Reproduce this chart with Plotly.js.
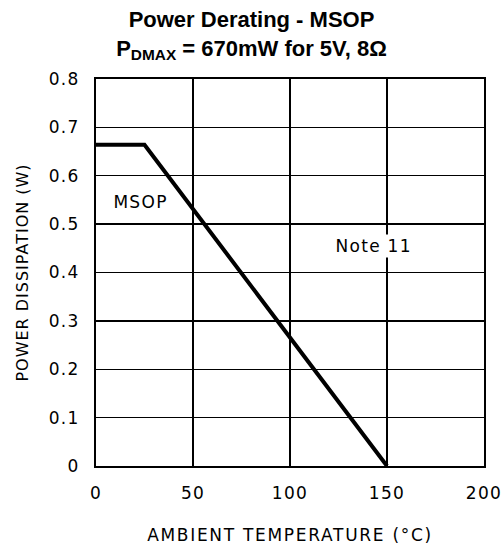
<!DOCTYPE html>
<html>
<head>
<meta charset="utf-8">
<script src="https://cdn.plot.ly/plotly-3.0.1.min.js"></script>
<style>
html,body{margin:0;padding:0;background:#fff;}
#chart .xtitle{letter-spacing:1.7px;}
#chart .ytitle{letter-spacing:1px;}
#chart .xtick text,#chart .ytick text{letter-spacing:1.3px;}
#chart .annotation-text{letter-spacing:1.3px;}
</style>
</head>
<body>
<div id="chart" style="width:503px;height:554px;"></div>
<script>
// Data
const tempC = [0, 25, 150];
const powerW = [0.664, 0.664, 0];
const xTicks = [0, 50, 100, 150, 200];
const yTicks = [0, 0.1, 0.2, 0.3, 0.4, 0.5, 0.6, 0.7, 0.8];
const yTickText = ['0', '0.1', '0.2', '0.3', '0.4', '0.5', '0.6', '0.7', '0.8'];
const labels = [
  {text: 'MSOP', x: 23, y: 0.546},
  {text: 'Note 11', x: 143, y: 0.455}
];

const tickFont = {family: 'DejaVu Sans', size: 17, color: '#000'};

const trace = {
  x: tempC, y: powerW, mode: 'lines', type: 'scatter',
  line: {color: '#000', width: 4}, hoverinfo: 'skip', showlegend: false
};

const layout = {
  width: 503, height: 554,
  margin: {l: 96, r: 19, t: 79, b: 88},
  paper_bgcolor: '#fff', plot_bgcolor: '#fff',
  title: {
    text: '<b>Power Derating - MSOP</b><br><b>P<sub>DMAX</sub> = 670mW for 5V, 8Ω</b>',
    x: 0.5, xanchor: 'center', y: 0.951, yanchor: 'middle',
    font: {family: 'Liberation Sans', size: 22, color: '#000'}
  },
  xaxis: {
    range: [0, 200], tickvals: xTicks, ticks: '', showgrid: true,
    gridcolor: '#000', gridwidth: 1.3, showline: true, mirror: true,
    linecolor: '#000', linewidth: 2, zeroline: false, tickfont: tickFont,
    ticklabelstandoff: 11,
    title: {text: 'AMBIENT TEMPERATURE (°C)', font: tickFont, standoff: 27}
  },
  yaxis: {
    range: [0, 0.8], tickvals: yTicks, ticktext: yTickText, ticks: '', showgrid: true,
    gridcolor: '#000', gridwidth: 1.3, showline: true, mirror: true,
    linecolor: '#000', linewidth: 2, zeroline: false, tickfont: tickFont,
    ticklabelstandoff: 11,
    title: {text: 'POWER DISSIPATION (W)', font: {family: 'DejaVu Sans', size: 16, color: '#000'}, standoff: 20}
  },
  annotations: labels.map(l => ({
    text: l.text, x: l.x, y: l.y, xref: 'x', yref: 'y', showarrow: false,
    font: tickFont, bgcolor: '#fff'
  }))
};

Plotly.newPlot('chart', [trace], layout, {displayModeBar: false, staticPlot: true});
</script>
</body>
</html>
